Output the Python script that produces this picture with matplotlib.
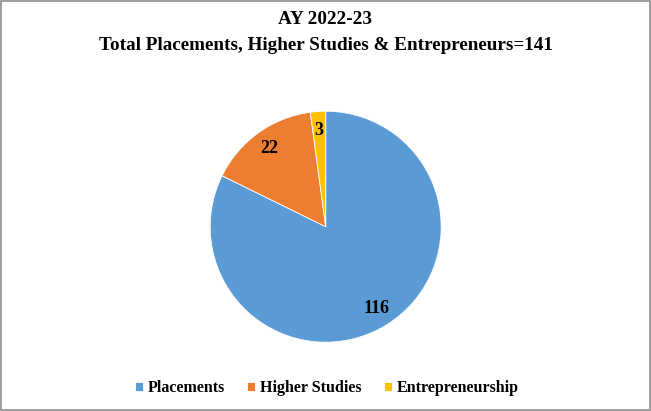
import matplotlib.pyplot as plt
from matplotlib.patches import Rectangle

plt.rcParams['font.family'] = ['Liberation Serif', 'DejaVu Serif']

labels = ['Placements', 'Higher Studies', 'Entrepreneurship']
values = [116, 22, 3]
colors = ['#5B9BD5', '#ED7D31', '#FFC000']
title_lines = ['AY 2022-23', 'Total Placements, Higher Studies & Entrepreneurs=141']

fig = plt.figure(figsize=(6.51, 4.11), dpi=100)
fig.patch.set_facecolor('white')

# pie area, center ~ (326, 227) px, radius ~116 px
ax = fig.add_axes([0.3229, 0.1674, 0.3548, 0.562])
wedges, texts = ax.pie(values, colors=colors, startangle=90, counterclock=False,
                       labels=[str(v) for v in values], labeldistance=0.835,
                       wedgeprops={'edgecolor': 'white', 'linewidth': 0.6},
                       textprops={'fontsize': 13, 'fontweight': 'bold', 'color': 'black'})
for t in texts:
    t.set_ha('center')
    t.set_va('center')
ax.set_xlim(-1, 1)
ax.set_ylim(-1, 1)
ax.set_aspect('equal')

fig.text(0.5, 1 - 20 / 411, title_lines[0], ha='center', va='center',
         fontsize=13.8, fontweight='bold')
fig.text(0.5, 1 - 46 / 411, title_lines[1], ha='center', va='center',
         fontsize=13.8, fontweight='bold')

leg = fig.legend(wedges, labels, loc='center', bbox_to_anchor=(0.502, 1 - 388 / 411),
                 ncol=3, frameon=False, handlelength=0.5, handleheight=0.5,
                 handletextpad=0.3, columnspacing=1.4,
                 prop={'size': 11.5, 'weight': 'bold'})

fig.patches.append(Rectangle((0.0015, 0.0025), 0.997, 0.995, transform=fig.transFigure,
                             fill=False, edgecolor='#8C8C8C', linewidth=1.2))

fig.savefig('out.png', dpi=100)
